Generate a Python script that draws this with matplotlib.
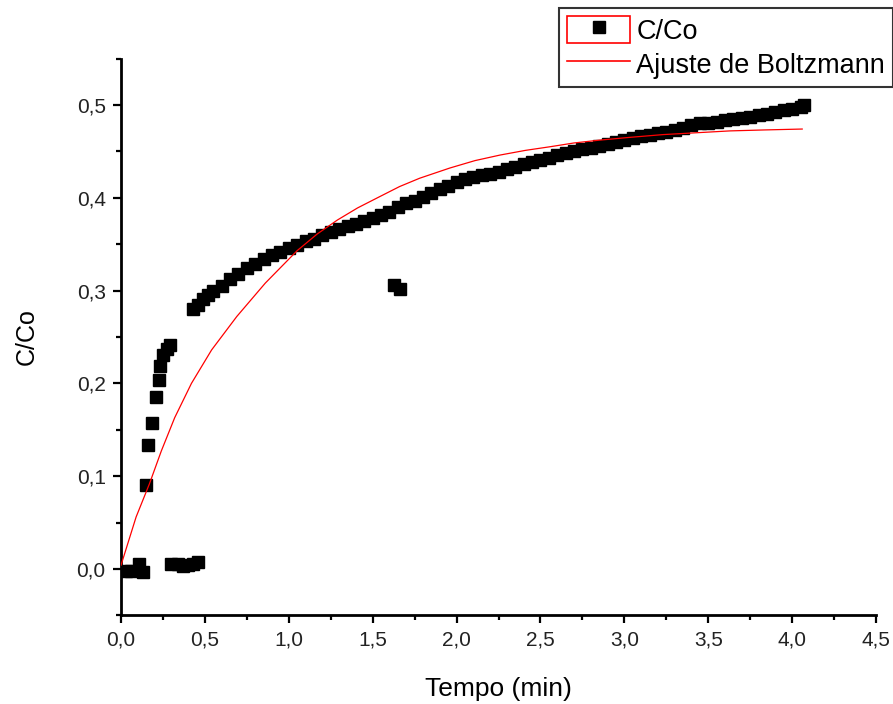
import matplotlib.pyplot as plt
from matplotlib.lines import Line2D
from matplotlib.patches import Rectangle
from matplotlib.ticker import MultipleLocator, FuncFormatter

plt.rcParams["font.family"] = ["Liberation Sans", "DejaVu Sans"]

# --------------------------------------------------
# Daten
# --------------------------------------------------

# Anfangspunkte bei ~0
t_low1 = [0.03, 0.06, 0.11, 0.13]
c_low1 = [-0.002, -0.002, 0.005, -0.003]

# steiler Anstieg
t_rise = [0.15, 0.16, 0.185, 0.207, 0.225, 0.232, 0.25, 0.274, 0.29]
c_rise = [0.090, 0.134, 0.157, 0.185, 0.204, 0.219, 0.230, 0.237, 0.241]

# zweite Gruppe bei ~0
t_low2 = [0.30, 0.34, 0.37, 0.40, 0.43, 0.46]
c_low2 = [0.005, 0.005, 0.003, 0.004, 0.005, 0.007]

# Hauptkurve
t_main = [0.43, 0.46, 0.49, 0.52, 0.55, 0.60, 0.65, 0.70, 0.75, 0.80,
          0.85, 0.90, 0.95, 1.00, 1.05, 1.10, 1.15, 1.20, 1.25, 1.30,
          1.35, 1.40, 1.45, 1.50, 1.55, 1.60, 1.65, 1.70, 1.75, 1.80,
          1.85, 1.90, 1.95, 2.00, 2.05, 2.10, 2.15, 2.20, 2.25, 2.30,
          2.35, 2.40, 2.45, 2.50, 2.55, 2.60, 2.65, 2.70, 2.75, 2.80,
          2.85, 2.90, 2.95, 3.00, 3.05, 3.10, 3.15, 3.20, 3.25, 3.30,
          3.35, 3.40, 3.45, 3.50, 3.55, 3.60, 3.65, 3.70, 3.75, 3.80,
          3.85, 3.90, 3.95, 4.00, 4.05, 4.07]
c_main = [0.280, 0.284, 0.291, 0.295, 0.299, 0.305, 0.312, 0.318, 0.324, 0.329,
          0.334, 0.338, 0.342, 0.346, 0.349, 0.353, 0.356, 0.360, 0.363, 0.366,
          0.369, 0.372, 0.375, 0.378, 0.381, 0.385, 0.390, 0.394, 0.397, 0.401,
          0.405, 0.409, 0.413, 0.417, 0.420, 0.422, 0.424, 0.426, 0.428, 0.431,
          0.433, 0.436, 0.438, 0.441, 0.443, 0.446, 0.448, 0.450, 0.452, 0.454,
          0.456, 0.458, 0.460, 0.462, 0.464, 0.466, 0.468, 0.470, 0.471, 0.473,
          0.475, 0.478, 0.480, 0.481, 0.482, 0.484, 0.485, 0.486, 0.487, 0.489,
          0.490, 0.492, 0.494, 0.496, 0.498, 0.500]

# Ausreisser
t_out = [1.63, 1.66]
c_out = [0.306, 0.302]

# Boltzmann-Anpassung
t_fit = [0.00, 0.09, 0.17, 0.24, 0.32, 0.42, 0.54, 0.69, 0.86, 1.05,
         1.17, 1.29, 1.41, 1.54, 1.66, 1.78, 1.96, 2.11, 2.26, 2.41,
         2.56, 2.70, 2.85, 3.03, 3.23, 3.43, 3.63, 3.83, 4.06]
c_fit = [0.004, 0.056, 0.092, 0.127, 0.163, 0.200, 0.236, 0.272, 0.308, 0.343,
         0.361, 0.376, 0.389, 0.401, 0.412, 0.421, 0.432, 0.440, 0.446, 0.451,
         0.455, 0.459, 0.462, 0.465, 0.468, 0.470, 0.472, 0.473, 0.474]

t_all = t_low1 + t_rise + t_low2 + t_main + t_out
c_all = c_low1 + c_rise + c_low2 + c_main + c_out

# --------------------------------------------------
# Abbildung
# --------------------------------------------------

fig = plt.figure(figsize=(8.93, 7.04), dpi=100)
ax = fig.add_axes([0.1355, 0.1259, 0.8455, 0.791])

ax.plot(t_all, c_all, linestyle="none", marker="s", markersize=9.2,
        color="black", zorder=2)
ax.plot(t_fit, c_fit, color="red", linewidth=0.9, zorder=3)

ax.set_xlim(0, 4.5)
ax.set_ylim(-0.05, 0.55)

ax.spines["top"].set_visible(False)
ax.spines["right"].set_visible(False)
ax.spines["left"].set_linewidth(2.0)
ax.spines["bottom"].set_linewidth(2.0)

ax.xaxis.set_major_locator(MultipleLocator(0.5))
ax.xaxis.set_minor_locator(MultipleLocator(0.25))
ax.yaxis.set_major_locator(MultipleLocator(0.1))
ax.yaxis.set_minor_locator(MultipleLocator(0.05))

comma = FuncFormatter(lambda v, p: f"{v:.1f}".replace(".", ","))
ax.xaxis.set_major_formatter(comma)
ax.yaxis.set_major_formatter(comma)

ax.tick_params(which="major", direction="out", length=6, width=1.6,
               labelsize=15, colors="black", labelcolor="#222222", pad=5)
ax.tick_params(which="minor", direction="out", length=3.5, width=1.6)

ax.set_xlabel("Tempo (min)", fontsize=19, labelpad=20)
ax.set_ylabel("C/Co", fontsize=18, labelpad=27)

# --------------------------------------------------
# Legende
# --------------------------------------------------

box = Rectangle((0, 0), 1, 1, fill=False, edgecolor="red", linewidth=1.2)
sq = Line2D([], [], linestyle="none", marker="s", markersize=9.2, color="black")
fit_line = Line2D([], [], color="red", linewidth=1.2)

leg = fig.legend(
    [(box, sq), fit_line],
    ["C/Co", "Ajuste de Boltzmann"],
    loc="upper right",
    bbox_to_anchor=(1.0, 1 - 8 / 704),
    fontsize=19.5,
    frameon=True,
    fancybox=False,
    borderaxespad=0,
    handlelength=2.33,
    handleheight=1.15,
    handletextpad=0.22,
    labelspacing=0.2,
    borderpad=0.3,
)
leg.get_frame().set_edgecolor("black")
leg.get_frame().set_linewidth(1.5)

plt.savefig("out.png", dpi=100)
